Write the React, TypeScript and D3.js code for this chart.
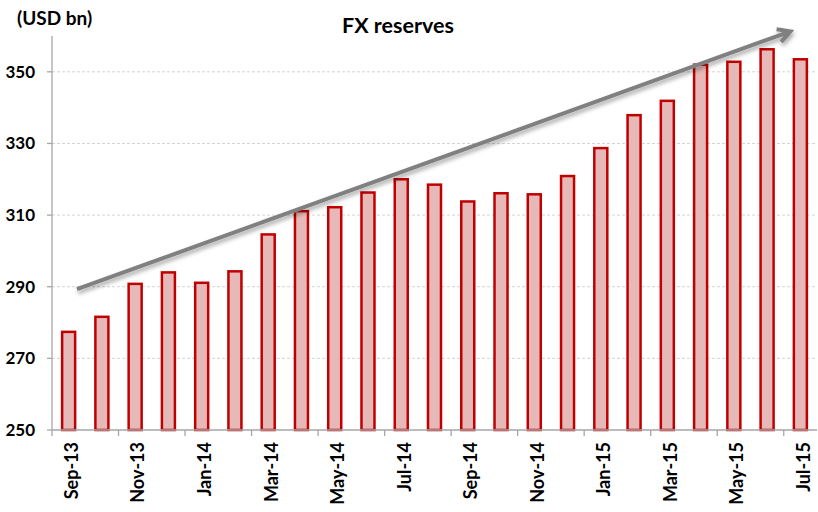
import React from "react";
import * as d3 from "d3";

const months = [
  "Sep-13","Oct-13","Nov-13","Dec-13","Jan-14","Feb-14","Mar-14","Apr-14","May-14","Jun-14","Jul-14","Aug-14",
  "Sep-14","Oct-14","Nov-14","Dec-14","Jan-15","Feb-15","Mar-15","Apr-15","May-15","Jun-15","Jul-15",
];
const reserves = [
  277.4, 281.6, 290.8, 294.0, 291.1, 294.3, 304.6, 311.1, 312.2, 316.3, 320.0, 318.5,
  313.8, 316.1, 315.8, 320.9, 328.7, 337.9, 341.9, 352.0, 352.8, 356.3, 353.5,
];
const yTicks = [250, 270, 290, 310, 330, 350];
const trendStart = { pos: 0.75, value: 289.3 };
const trendEnd = { pos: 22.2, value: 361.3 };

const W = 818;
const H = 512;
const left = 52;
const right = 817;
const top = 36;
const bottom = 430;
const font = "Lato, 'Open Sans', sans-serif";

export default function App() {
  const x = d3.scaleBand<string>().domain(months).range([left, right]).paddingInner(0).paddingOuter(0);
  const pos = d3.scaleLinear().domain([0, months.length]).range([left, right]);
  const y = d3.scaleLinear().domain([250, 360]).range([bottom, top]);
  const barW = 13;
  const x1 = pos(trendStart.pos), y1 = y(trendStart.value);
  const x2 = pos(trendEnd.pos), y2 = y(trendEnd.value);
  const ang = Math.atan2(y2 - y1, x2 - x1);
  const hl = 14, ha = 0.5;
  const h1 = [x2 - hl * Math.cos(ang - ha), y2 - hl * Math.sin(ang - ha)];
  const h2 = [x2 - hl * Math.cos(ang + ha), y2 - hl * Math.sin(ang + ha)];
  const boundaries = d3.range(0, months.length + 1, 2);

  return (
    <svg width={W} height={H} style={{ position: "absolute", left: 0, top: 0, background: "#fff" }} fontFamily={font}>
      <defs>
        <filter id="shadow" x="-10%" y="-50%" width="120%" height="200%">
          <feDropShadow dx="1" dy="3" stdDeviation="2" floodColor="#000" floodOpacity="0.35" />
        </filter>
      </defs>
      {yTicks.filter((t) => t > 250).map((t) => (
        <line key={t} x1={left} x2={right} y1={y(t)} y2={y(t)} stroke="#d4d4d4" strokeDasharray="3,2" strokeWidth={1} />
      ))}
      {months.map((m, i) => (
        <rect
          key={m}
          x={(x(m) as number) + x.bandwidth() / 2 - barW / 2}
          y={y(reserves[i])}
          width={barW}
          height={bottom - y(reserves[i])}
          fill="#E6B9B8"
          stroke="#C00000"
          strokeWidth={2.5}
        />
      ))}
      <line x1={left} x2={left} y1={top} y2={bottom} stroke="#a6a6a6" strokeWidth={1.3} />
      <line x1={left} x2={right} y1={bottom} y2={bottom} stroke="#a6a6a6" strokeWidth={1.3} />
      {yTicks.map((t) => (
        <g key={t}>
          <line x1={left - 5} x2={left} y1={y(t)} y2={y(t)} stroke="#a6a6a6" strokeWidth={1.3} />
          <text x={35} y={y(t)} dy="0.35em" textAnchor="end" fontSize={17} fontWeight="bold" fill="#000">{t}</text>
        </g>
      ))}
      {boundaries.map((b) => (
        <line key={b} x1={pos(b)} x2={pos(b)} y1={bottom} y2={bottom + 6} stroke="#a6a6a6" strokeWidth={1.3} />
      ))}
      {months.map((m, i) =>
        i % 2 === 0 ? (
          <text
            key={m}
            transform={`translate(${(x(m) as number) + x.bandwidth() / 2 + 3},${bottom + 12}) rotate(-90)`}
            textAnchor="end"
            dy="0.35em"
            fontSize={18}
            fontWeight="bold"
            fill="#000"
          >
            {m}
          </text>
        ) : null
      )}
      <g filter="url(#shadow)" stroke="#808080" strokeWidth={4} fill="none" strokeLinecap="butt">
        <line x1={x1} y1={y1} x2={x2 - 2 * Math.cos(ang)} y2={y2 - 2 * Math.sin(ang)} />
        <polyline points={`${h1[0]},${h1[1]} ${x2},${y2} ${h2[0]},${h2[1]}`} strokeLinejoin="miter" />
      </g>
      <text x={398} y={25} dy="0.35em" textAnchor="middle" fontSize={21.5} fontWeight="bold" fill="#000">FX reserves</text>
      <text x={17} y={18} dy="0.35em" fontSize={19} fontWeight="bold" fill="#000">(USD bn)</text>
    </svg>
  );
}
